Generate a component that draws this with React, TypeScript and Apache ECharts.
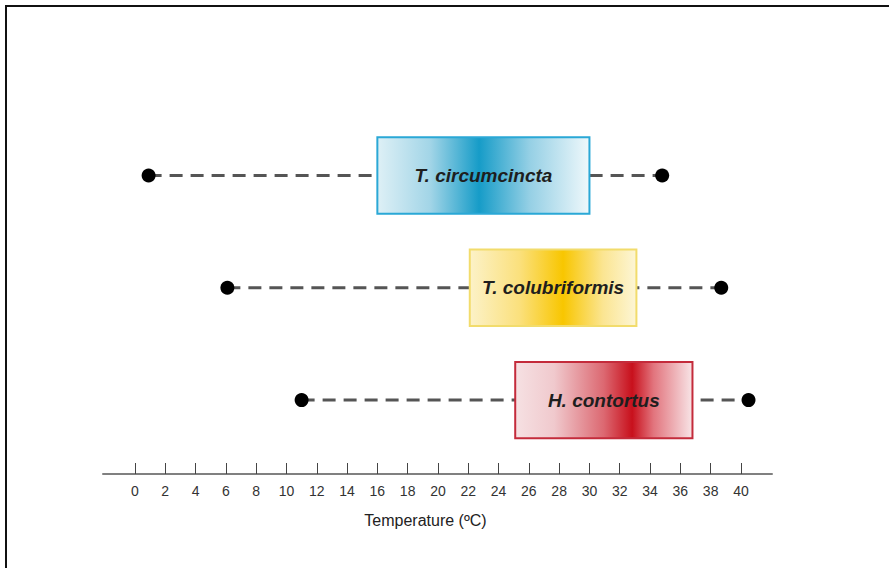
import React, { useEffect, useRef } from "react";
import * as echarts from "echarts";

const categories = ["T. circumcincta", "T. colubriformis", "H. contortus"];
const rowPos = [3, 2, 1];
const rangeMin = [0.9, 6.1, 11.0];
const boxStart = [16.0, 22.1, 25.1];
const boxEnd = [30.0, 33.1, 36.8];
const rangeMax = [34.8, 38.7, 40.5];
const tickValues = [0, 2, 4, 6, 8, 10, 12, 14, 16, 18, 20, 22, 24, 26, 28, 30, 32, 34, 36, 38, 40];
const axisTitle = "Temperature (ºC)";

const boxBorders = ["#2aa8d6", "#f2dc6c", "#c42b3b"];
const boxStops = [
  [
    [0, "#def0f6"],
    [0.25, "#a2d5e7"],
    [0.48, "#169cc8"],
    [0.72, "#96d0e5"],
    [1, "#eff8fb"],
  ],
  [
    [0, "#fcf2c8"],
    [0.3, "#fbe07c"],
    [0.56, "#f8c600"],
    [0.8, "#fbe592"],
    [1, "#fdf6d6"],
  ],
  [
    [0, "#f6e1e3"],
    [0.22, "#f0c9cd"],
    [0.5, "#dc6871"],
    [0.66, "#c8101c"],
    [0.78, "#e2747d"],
    [1, "#f8e5e7"],
  ],
];

export default function App() {
  const ref = useRef<HTMLDivElement>(null);
  useEffect(() => {
    if (!ref.current) return;
    const chart = echarts.init(ref.current, null, { renderer: "svg" });
    const data = categories.map((c, i) => [rowPos[i], rangeMin[i], boxStart[i], boxEnd[i], rangeMax[i], i]);
    chart.setOption({
      animation: false,
      backgroundColor: "#ffffff",
      grid: { left: 103, right: 117, top: 100, bottom: 94 },
      xAxis: {
        type: "value",
        min: -2.11,
        max: 42.05,
        name: axisTitle,
        nameLocation: "middle",
        nameGap: 38,
        nameTextStyle: {
          fontFamily: "Liberation Sans",
          fontSize: 16,
          color: "#222",
          padding: [0, 24, 0, 0],
        },
        axisLine: { show: true, lineStyle: { color: "#808080", width: 2 } },
        axisTick: {
          show: true,
          inside: true,
          length: 11,
          customValues: tickValues,
          lineStyle: { color: "#444", width: 1 },
        },
        axisLabel: {
          customValues: tickValues,
          margin: 10,
          fontFamily: "Liberation Sans",
          fontSize: 14,
          color: "#333",
          hideOverlap: false,
        },
        splitLine: { show: false },
      },
      yAxis: {
        type: "value",
        min: 0.342,
        max: 3.672,
        show: false,
        splitLine: { show: false },
      },
      graphic: [
        {
          type: "rect",
          shape: { x: 6, y: 6, width: 1000, height: 1000 },
          style: { fill: "none", stroke: "#111", lineWidth: 2 },
          silent: true,
        },
      ],
      series: [
        {
          type: "custom",
          data,
          renderItem: (params: any, api: any) => {
            const y = api.value(0);
            const idx = api.value(5);
            const p0 = api.coord([api.value(1), y]);
            const b1 = api.coord([api.value(2), y]);
            const b2 = api.coord([api.value(3), y]);
            const p1 = api.coord([api.value(4), y]);
            const h = api.size([0, 0.68])[1];
            const grad = new echarts.graphic.LinearGradient(
              0,
              0,
              1,
              0,
              boxStops[idx].map((s: any) => ({ offset: s[0], color: s[1] }))
            );
            return {
              type: "group",
              children: [
                {
                  type: "line",
                  shape: { x1: p0[0], y1: p0[1], x2: p1[0], y2: p1[1] },
                  style: { stroke: "#555", lineWidth: 3, lineDash: [13, 8] },
                },
                {
                  type: "rect",
                  shape: { x: b1[0], y: b1[1] - h / 2, width: b2[0] - b1[0], height: h },
                  style: { fill: grad, stroke: boxBorders[idx], lineWidth: 2 },
                },
                {
                  type: "text",
                  style: {
                    text: categories[idx],
                    x: (b1[0] + b2[0]) / 2,
                    y: b1[1],
                    align: "center",
                    verticalAlign: "middle",
                    fontFamily: "Liberation Sans",
                    fontSize: 19,
                    fontWeight: "bold",
                    fontStyle: "italic",
                    fill: "#1e1e1e",
                  },
                },
                {
                  type: "circle",
                  shape: { cx: p0[0], cy: p0[1], r: 7 },
                  style: { fill: "#000" },
                },
                {
                  type: "circle",
                  shape: { cx: p1[0], cy: p1[1], r: 7 },
                  style: { fill: "#000" },
                },
              ],
            };
          },
        },
      ],
    });
    return () => chart.dispose();
  }, []);
  return (
    <div
      ref={ref}
      style={{ position: "fixed", left: 0, top: 0, width: 889, height: 568 }}
    />
  );
}
